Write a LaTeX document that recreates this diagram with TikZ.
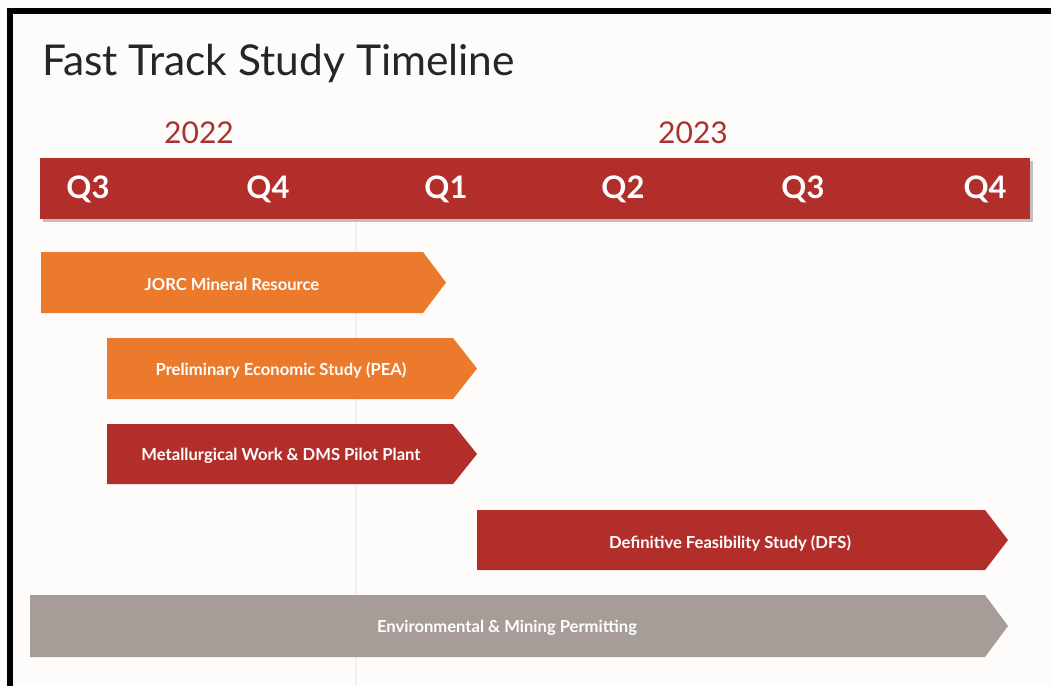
\documentclass[tikz,border=0pt]{standalone}
\usepackage{fontspec}
\setmainfont{Lato}
\definecolor{bg}{HTML}{FDFCFA}
\definecolor{barred}{HTML}{B22E2A}
\definecolor{yearred}{HTML}{A8322E}
\definecolor{orng}{HTML}{EC7A2C}
\definecolor{permgray}{HTML}{A69D98}
\definecolor{sepgray}{HTML}{F2EFEC}
\tikzset{
  qlabel/.style={text=white,font=\bfseries\fontsize{31}{31}\selectfont,inner sep=0pt},
  yearlabel/.style={text=yearred,font=\fontsize{30}{30}\selectfont,inner sep=0pt},
  barlabel/.style={text=white,font=\bfseries\fontsize{16.6}{17}\selectfont,inner sep=0pt},
  titlelabel/.style={text=black!85,font=\fontsize{42.5}{43}\selectfont,inner sep=0pt,anchor=base west}
}
\begin{document}
\begin{tikzpicture}[x=1pt,y=-1pt]
\useasboundingbox (0,0) rectangle (1051,686);
\fill[bg] (0,0) rectangle (1051,686);
% frame
\fill[black] (7,8) rectangle (1051,13.5);
\fill[black] (7,8) rectangle (12.5,686);
% year separator
\draw[sepgray,line width=1.2pt] (356,219) -- (356,686);
% title
\node[titlelabel] (title) at (42,75) {Fast Track Study Timeline};
% years
\node[yearlabel] (y22) at (199,133) {2022};
\node[yearlabel] (y23) at (693,133) {2023};
% quarter bar
\fill[black!25] (43,161) rectangle (1033,222);
\fill[barred] (40,158) rectangle (1030,219);
\node[qlabel] (q1) at (88,189.5) {Q3};
\node[qlabel] (q2) at (268,189.5) {Q4};
\node[qlabel] (q3) at (446,189.5) {Q1};
\node[qlabel] (q4) at (623,189.5) {Q2};
\node[qlabel] (q5) at (803,189.5) {Q3};
\node[qlabel] (q6) at (985,189.5) {Q4};
% bars
\fill[orng] (41,252) -- (423,252) -- (446,282.5) -- (423,313) -- (41,313) -- cycle;
\node[barlabel] (jorc) at (232,284) {JORC Mineral Resource};
\fill[orng] (107,338) -- (453,338) -- (477,368.5) -- (453,399) -- (107,399) -- cycle;
\node[barlabel] (pea) at (281,370) {Preliminary Economic Study (PEA)};
\fill[barred] (107,424) -- (453,424) -- (477,454) -- (453,484) -- (107,484) -- cycle;
\node[barlabel] (met) at (281,456) {Metallurgical Work \& DMS Pilot Plant};
\fill[barred] (477,510) -- (985,510) -- (1008,540) -- (985,570) -- (477,570) -- cycle;
\node[barlabel] (dfs) at (730,543) {Definitive Feasibility Study (DFS)};
\fill[permgray] (30,595) -- (985,595) -- (1008,626) -- (985,657) -- (30,657) -- cycle;
\node[barlabel] (env) at (507,628) {Environmental \& Mining Permitting};
\end{tikzpicture}
\end{document}
